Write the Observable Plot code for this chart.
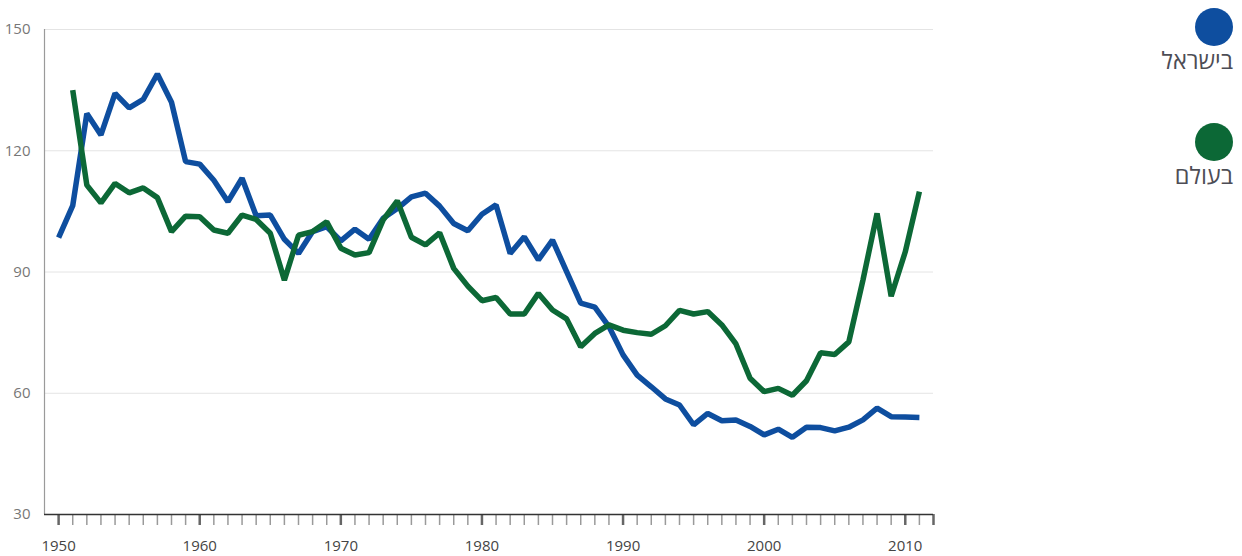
<!DOCTYPE html>
<html>
<head>
<meta charset="utf-8">
<script src="https://cdn.jsdelivr.net/npm/d3@7"></script>
<script src="https://cdn.jsdelivr.net/npm/@observablehq/plot@0.6"></script>
<style>
  html, body { margin: 0; padding: 0; background: #fff; }
  #wrap { position: relative; width: 1242px; height: 556px; font-family: "Open Sans", "DejaVu Sans", sans-serif; }
  .leg { position: absolute; right: 9px; width: 120px; text-align: right; direction: rtl; }
  .leg .dot { width: 38px; height: 38px; border-radius: 50%; margin-right: 0; margin-left: auto; display: block; }
  .leg .lab { font-size: 23.5px; color: #4d4d55; line-height: 24px; margin-top: 2px; }
</style>
</head>
<body>
<div id="wrap"></div>
<script>
const years = [1950,1951,1952,1953,1954,1955,1956,1957,1958,1959,
  1960,1961,1962,1963,1964,1965,1966,1967,1968,1969,
  1970,1971,1972,1973,1974,1975,1976,1977,1978,1979,
  1980,1981,1982,1983,1984,1985,1986,1987,1988,1989,
  1990,1991,1992,1993,1994,1995,1996,1997,1998,1999,
  2000,2001,2002,2003,2004,2005,2006,2007,2008,2009,
  2010,2011];
const israel = [98.5,106.4,129.2,123.9,134.2,130.6,132.7,139.0,132.0,117.3,
  116.7,112.7,107.4,113.2,103.9,104.1,98.1,94.6,100.0,101.2,
  97.7,100.6,98.1,103.3,105.7,108.6,109.5,106.3,102.0,100.2,
  104.3,106.6,94.6,98.7,93.0,97.9,90.1,82.3,81.3,76.5,
  69.5,64.5,61.6,58.6,57.1,52.2,55.0,53.2,53.4,51.8,
  49.7,51.1,49.1,51.6,51.5,50.7,51.6,53.4,56.3,54.2,
  54.1,54.0];
const world = [null,135.0,111.5,107.1,111.9,109.6,110.8,108.4,100.0,103.8,
  103.7,100.4,99.6,104.1,103.0,99.6,88.0,99.1,100.0,102.4,
  95.9,94.2,94.8,102.9,107.6,98.6,96.7,99.7,90.9,86.5,
  82.9,83.7,79.6,79.6,84.7,80.6,78.4,71.5,74.8,76.9,
  75.6,75.0,74.6,76.7,80.5,79.6,80.2,76.9,72.2,63.7,
  60.4,61.2,59.5,63.1,70.0,69.6,72.7,88.0,104.5,84.0,
  95.0,109.9];
const seriesNames = ["בישראל", "בעולם"];
const seriesColors = ["#0e4e9f", "#0c6836"];
const yTicks = [30, 60, 90, 120, 150];
const xLabelTicks = [1950, 1960, 1970, 1980, 1990, 2000, 2010];
const xAllTicks = [1950,1951,1952,1953,1954,1955,1956,1957,1958,1959,
  1960,1961,1962,1963,1964,1965,1966,1967,1968,1969,
  1970,1971,1972,1973,1974,1975,1976,1977,1978,1979,
  1980,1981,1982,1983,1984,1985,1986,1987,1988,1989,
  1990,1991,1992,1993,1994,1995,1996,1997,1998,1999,
  2000,2001,2002,2003,2004,2005,2006,2007,2008,2009,
  2010,2011,2012];
const xDomain = [1949, 2012];
const yDomain = [30, 150];

const israelData = years.map((y, i) => ({year: y, value: israel[i]}));
const worldData = years.map((y, i) => ({year: y, value: world[i]}));
const minorTicks = xAllTicks.filter(t => t % 10 !== 0 && t !== 2012);
const majorTicks = xAllTicks.filter(t => t % 10 === 0 || t === 2012);

const chart = Plot.plot({
  width: 1242,
  height: 556,
  marginLeft: 44,
  marginRight: 309,
  marginTop: 29,
  marginBottom: 42,
  style: { fontFamily: "'Open Sans', 'DejaVu Sans', sans-serif", background: "white" },
  x: { domain: xDomain },
  y: { domain: yDomain },
  marks: [
    Plot.gridY(yTicks.filter(t => t > 30), { stroke: "#e4e4e4", strokeOpacity: 1, strokeWidth: 1 }),
    Plot.ruleX([xDomain[0]], { stroke: "#9a9a9a", strokeWidth: 1.2 }),
    Plot.axisY({ ticks: yTicks, tickSize: 0, tickPadding: 14, fontSize: 15, color: "#777", tickFormat: d => String(d), label: null }),
    Plot.axisX({ ticks: minorTicks, tickSize: 11, tickPadding: 0, text: null, stroke: "#9a9a9a", strokeWidth: 1.5, label: null }),
    Plot.axisX({ ticks: majorTicks, tickSize: 11, tickPadding: 0, text: null, stroke: "#666", strokeWidth: 2.5, label: null }),
    Plot.axisX({ ticks: xLabelTicks, tickSize: 0, tickPadding: 26, fontSize: 15, color: "#444", tickFormat: d => String(d), label: null }),
    Plot.ruleY([yDomain[0]], { stroke: "#333", strokeWidth: 1.5 }),
    Plot.line(israelData, { x: "year", y: "value", stroke: seriesColors[0], strokeWidth: 5.5, strokeLinejoin: "miter", strokeLinecap: "butt" }),
    Plot.line(worldData, { x: "year", y: "value", stroke: seriesColors[1], strokeWidth: 5.5, strokeLinejoin: "miter", strokeLinecap: "butt" })
  ]
});

const wrap = document.getElementById("wrap");
wrap.appendChild(chart);

const legTops = [8, 123];
seriesNames.forEach((name, i) => {
  const d = document.createElement("div");
  d.className = "leg";
  d.style.top = legTops[i] + "px";
  const dot = document.createElement("div");
  dot.className = "dot";
  dot.style.background = seriesColors[i];
  const lab = document.createElement("div");
  lab.className = "lab";
  lab.textContent = name;
  d.appendChild(dot);
  d.appendChild(lab);
  wrap.appendChild(d);
});
</script>
</body>
</html>
